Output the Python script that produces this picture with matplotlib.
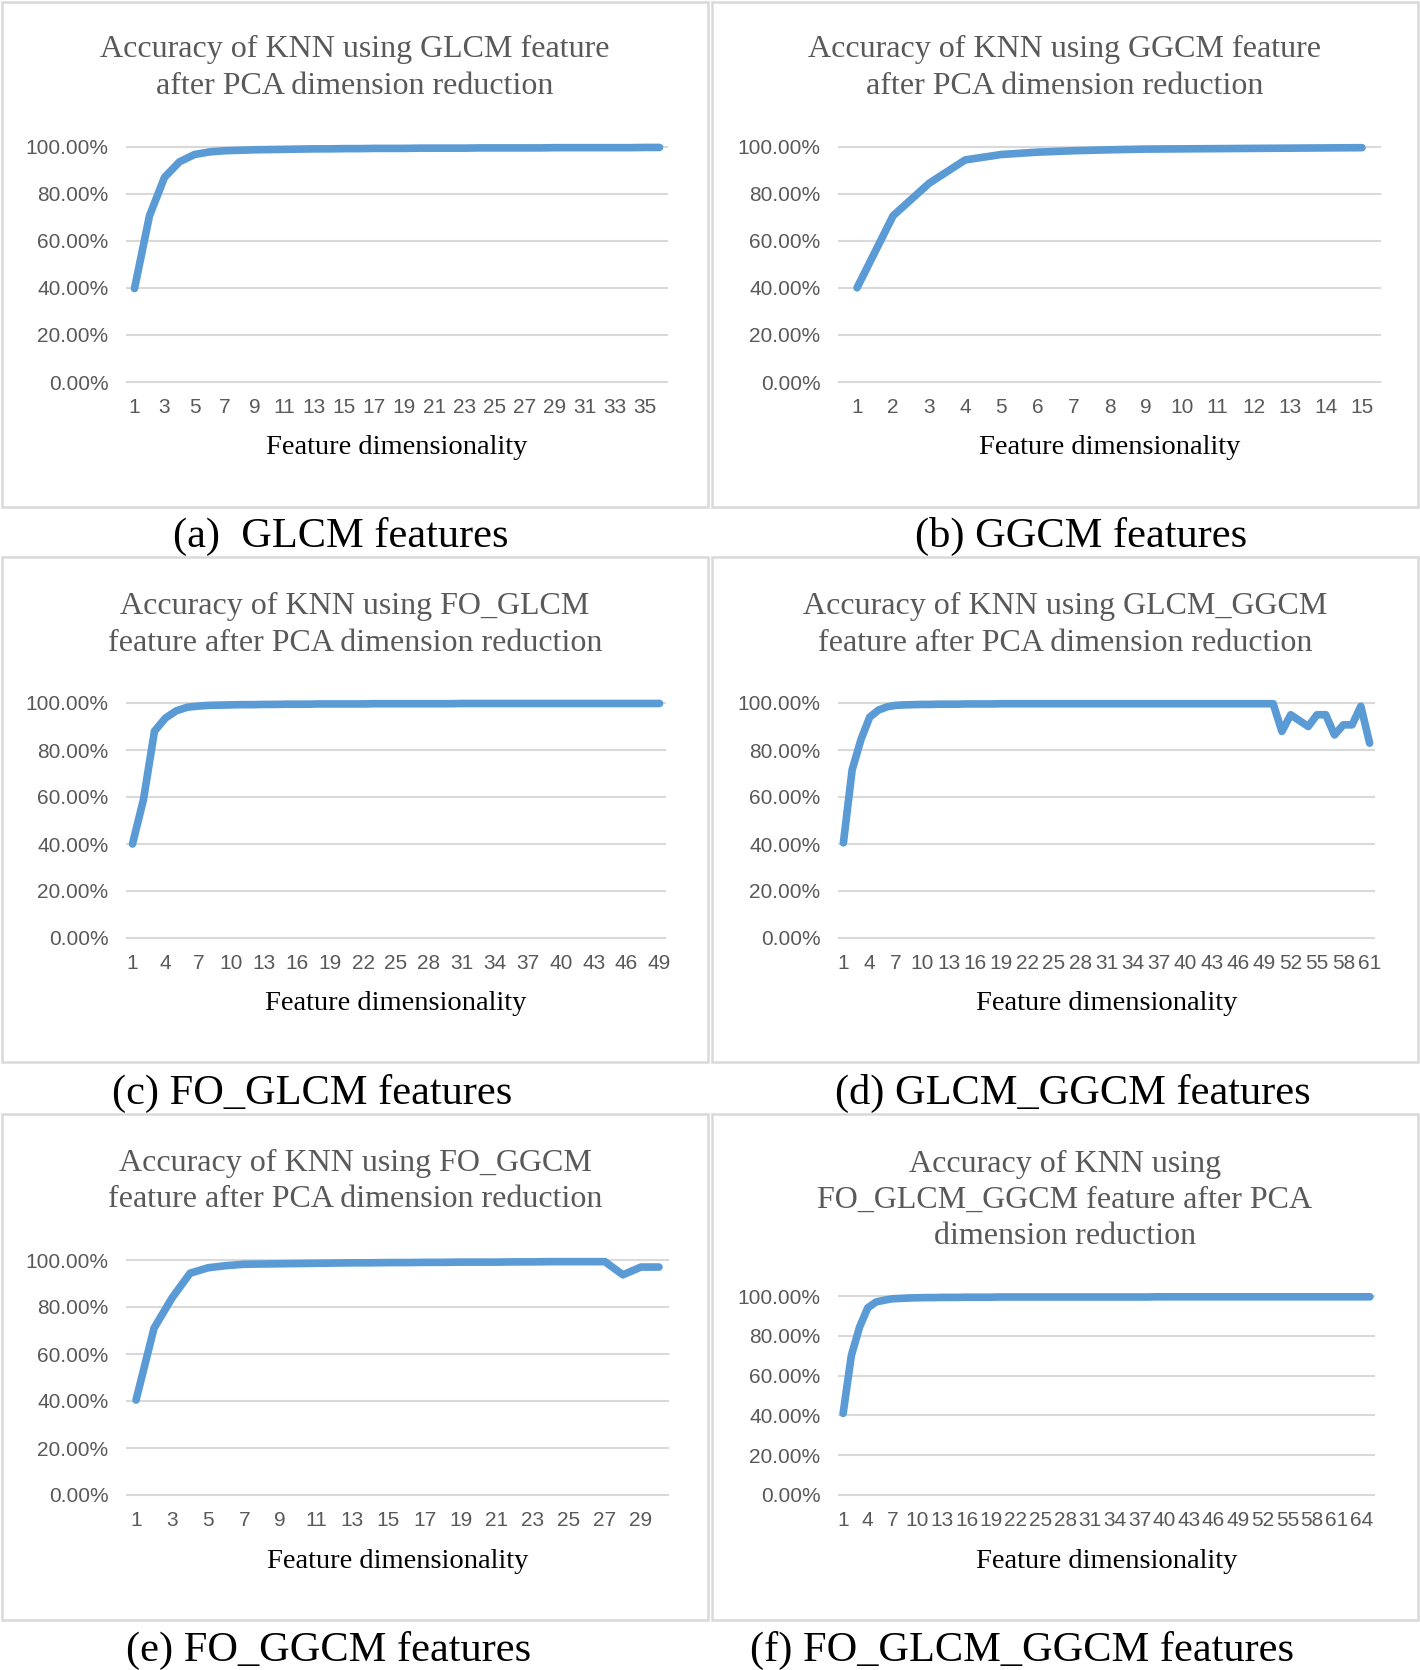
import matplotlib
matplotlib.use("Agg")
import matplotlib.pyplot as plt
from matplotlib.patches import Rectangle

# ---------------- data (accuracy in %) ----------------
glcm_acc = [39.7, 70.6, 86.9, 93.5, 96.6, 97.7, 98.2, 98.4, 98.6, 98.7, 98.8, 98.9,
            99.0, 99.0, 99.1, 99.1, 99.2, 99.2, 99.2, 99.3, 99.3, 99.3, 99.3, 99.4,
            99.4, 99.4, 99.4, 99.4, 99.5, 99.5, 99.5, 99.5, 99.5, 99.5, 99.6, 99.6]
ggcm_acc = [40.0, 70.6, 84.4, 94.3, 96.6, 97.6, 98.2, 98.6, 98.9, 99.0, 99.1, 99.2,
            99.3, 99.4, 99.5]
fo_glcm_acc = [40.0, 58.9, 88.0, 93.6, 96.7, 98.2, 98.7, 99.0, 99.1, 99.2, 99.3, 99.3,
               99.4, 99.4, 99.5, 99.5, 99.5, 99.6, 99.6, 99.6, 99.6, 99.6, 99.7, 99.7,
               99.7, 99.7, 99.7, 99.7, 99.7, 99.7, 99.8, 99.8, 99.8, 99.8, 99.8, 99.8,
               99.8, 99.8, 99.8, 99.8, 99.8, 99.8, 99.8, 99.8, 99.8, 99.8, 99.8, 99.8,
               99.8]
glcm_ggcm_acc = [40.5, 71.6, 84.4, 94.0, 97.0, 98.4, 99.0, 99.2, 99.3, 99.4, 99.4, 99.5,
                 99.5, 99.5, 99.6, 99.6, 99.6, 99.6, 99.7, 99.7, 99.7, 99.7, 99.7, 99.7,
                 99.7, 99.7, 99.7, 99.7, 99.7, 99.7, 99.7, 99.7, 99.7, 99.7, 99.7, 99.7,
                 99.7, 99.7, 99.7, 99.7, 99.7, 99.7, 99.7, 99.7, 99.7, 99.7, 99.7, 99.7,
                 99.7, 99.7, 87.9, 95.0, 92.5, 90.0, 95.0, 95.0, 86.4, 90.7, 90.7, 98.6,
                 82.9]
fo_ggcm_acc = [40.4, 71.0, 83.9, 94.4, 96.7, 97.6, 98.2, 98.3, 98.4, 98.5, 98.6, 98.7,
               98.8, 98.8, 98.9, 98.9, 99.0, 99.0, 99.1, 99.1, 99.1, 99.2, 99.2, 99.3,
               99.3, 99.3, 99.3, 93.7, 97.0, 97.0]
fo_glcm_ggcm_acc = [41.0, 70.1, 84.4, 94.1, 97.0, 97.9, 98.6, 98.8, 99.0, 99.1, 99.2, 99.2,
                    99.3, 99.3, 99.3, 99.4, 99.4, 99.4, 99.4, 99.5, 99.5, 99.5, 99.5, 99.5,
                    99.5, 99.5, 99.5, 99.5, 99.5, 99.5, 99.5, 99.5, 99.5, 99.5, 99.5, 99.5,
                    99.5, 99.5, 99.6, 99.6, 99.6, 99.6, 99.6, 99.6, 99.6, 99.6, 99.6, 99.6,
                    99.6, 99.6, 99.6, 99.6, 99.6, 99.6, 99.6, 99.6, 99.6, 99.6, 99.6, 99.6,
                    99.6, 99.6, 99.6, 99.6, 99.6]

y_ticks = [0, 20, 40, 60, 80, 100]
y_tick_labels = ["0.00%", "20.00%", "40.00%", "60.00%", "80.00%", "100.00%"]

x_ticks_a = list(range(1, 37, 2))
x_ticks_b = list(range(1, 16, 1))
x_ticks_c = list(range(1, 50, 3))
x_ticks_d = list(range(1, 62, 3))
x_ticks_e = list(range(1, 31, 2))
x_ticks_f = list(range(1, 66, 3))

titles = [
    "Accuracy of KNN using GLCM feature\nafter PCA dimension reduction",
    "Accuracy of KNN using GGCM feature\nafter PCA dimension reduction",
    "Accuracy of KNN using FO_GLCM\nfeature after PCA dimension reduction",
    "Accuracy of KNN using GLCM_GGCM\nfeature after PCA dimension reduction",
    "Accuracy of KNN using FO_GGCM\nfeature after PCA dimension reduction",
    "Accuracy of KNN using\nFO_GLCM_GGCM feature after PCA\ndimension reduction",
]
captions = ["(a)  GLCM features", "(b) GGCM features", "(c) FO_GLCM features",
            "(d) GLCM_GGCM features", "(e) FO_GGCM features", "(f) FO_GLCM_GGCM features"]
x_label = "Feature dimensionality"

# ---------------- layout (pixels in a 1420x1670 canvas) ----------------
W, H = 1420, 1670
SERIF = ["Liberation Serif", "DejaVu Serif"]
SANS = ["Liberation Sans", "DejaVu Sans"]
LINE_C = "#5B9BD5"
GRID_C = "#D9D9D9"
TXT_C = "#595959"

panels = [
    dict(data=glcm_acc, xt=x_ticks_a, box=(2, 2, 708, 507), plot=(127, 146.5, 667, 382),
         title_y=68, xlabel_y=448, cap=(341, 536)),
    dict(data=ggcm_acc, xt=x_ticks_b, box=(712, 2, 1418, 507), plot=(839, 146.5, 1380, 382),
         title_y=68, xlabel_y=448, cap=(1081, 536)),
    dict(data=fo_glcm_acc, xt=x_ticks_c, box=(2, 557, 708, 1062), plot=(127, 703, 665, 938),
         title_y=625, xlabel_y=1003, cap=(312, 1093)),
    dict(data=glcm_ggcm_acc, xt=x_ticks_d, box=(712, 557, 1418, 1062), plot=(839, 703, 1374, 938),
         title_y=625, xlabel_y=1003, cap=(1073, 1093)),
    dict(data=fo_ggcm_acc, xt=x_ticks_e, box=(2, 1114, 708, 1620), plot=(127, 1260, 668, 1495),
         title_y=1181.5, xlabel_y=1561, cap=(329, 1650)),
    dict(data=fo_glcm_ggcm_acc, xt=x_ticks_f, box=(712, 1114, 1418, 1620), plot=(839, 1296, 1374, 1495),
         title_y=1200.5, xlabel_y=1561, cap=(1022, 1650)),
]

fig = plt.figure(figsize=(W / 100, H / 100), dpi=100)
fig.patch.set_facecolor("white")


def fx(px):
    return px / W


def fy(py):
    return 1 - py / H


for i, p in enumerate(panels):
    bx0, by0, bx1, by1 = p["box"]
    fig.add_artist(Rectangle((fx(bx0), fy(by1)), fx(bx1) - fx(bx0), fy(by0) - fy(by1),
                             transform=fig.transFigure, fill=False, edgecolor=GRID_C,
                             linewidth=1.8, zorder=0))
    x0, y0, x1, y1 = p["plot"]
    ax = fig.add_axes([fx(x0), fy(y1), fx(x1) - fx(x0), fy(y0) - fy(y1)])
    ax.set_facecolor("none")
    vals = p["data"]
    n = len(vals)
    xs = list(range(1, n + 1))
    ax.set_xlim(0.5, n + 0.5)
    ax.set_ylim(0, 100)
    for yv in y_ticks:
        ax.axhline(yv, color=GRID_C, linewidth=1.5, zorder=1, clip_on=False)
    ax.plot(xs, vals, color=LINE_C, linewidth=5.5, solid_capstyle="round",
            solid_joinstyle="round", zorder=3, clip_on=False)
    for s in ax.spines.values():
        s.set_visible(False)
    ax.set_yticks(y_ticks)
    ax.set_yticklabels(y_tick_labels, fontfamily=SANS, fontsize=15, color=TXT_C)
    ax.set_xticks(p["xt"])
    ax.set_xticklabels([str(v) for v in p["xt"]], fontfamily=SANS, fontsize=15, color=TXT_C)
    ax.tick_params(axis="both", length=0)
    ax.tick_params(axis="y", pad=13.5)
    ax.tick_params(axis="x", pad=11.5)

    fig.text(fx((bx0 + bx1) / 2), fy(p["title_y"]), titles[i], ha="center", va="center",
             fontfamily=SERIF, fontsize=23, color=TXT_C, linespacing=1.32)
    fig.text(fx((x0 + x1) / 2), fy(p["xlabel_y"]), x_label, ha="center", va="center",
             fontfamily=SERIF, fontsize=20.5, color="black")
    cx, cy = p["cap"]
    fig.text(fx(cx), fy(cy), captions[i], ha="center", va="center",
             fontfamily=SERIF, fontsize=30.5, color="black")

fig.savefig("out.png", dpi=100, facecolor="white")
